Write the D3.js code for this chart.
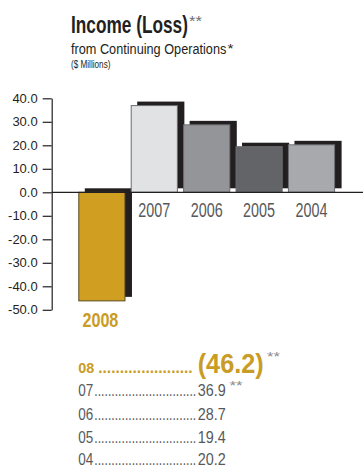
<!DOCTYPE html>
<html><head><meta charset="utf-8">
<script src="https://cdn.jsdelivr.net/npm/d3@7"></script>
<style>
html,body{margin:0;padding:0;background:#fff;}
svg{display:block;}
text{font-family:"Liberation Sans",Arial,sans-serif;}
</style></head>
<body>
<script>
// ---- data ----
const years = ["2008","2007","2006","2005","2004"];
const values = [-46.2, 36.9, 28.7, 19.4, 20.2];
const rowLabels = ["08","07","06","05","04"];
const rowNotes = ["**","**","","",""];
const yTicks = [40,30,20,10,0,-10,-20,-30,-40,-50];

// ---- styles ----
const barColors = ["#D09F22","#E1E2E4","#939598","#636468","#A7A9AC"];
const gold = "#C99C25", gray = "#58595B", ink = "#231F20";

const W = 363, H = 469;
const svg = d3.select("body").append("svg").attr("width", W).attr("height", H);

// condensed text: draw at size, then squeeze horizontally to a target width
function fitText(parent, x, y, str, size, width, opts = {}) {
  const el = parent.append("text").text(str)
    .style("font-size", size + "px")
    .style("font-weight", opts.bold ? "bold" : "normal")
    .attr("fill", opts.fill || ink)
    .attr("text-anchor", opts.anchor || "start");
  const len = el.node().getComputedTextLength();
  const sx = width ? width / len : 1;
  el.attr("transform", `translate(${x},${y}) scale(${sx},1)`);
  return el;
}

const y = d3.scaleLinear().domain([-50, 40]).range([309.8, 98.3]);
const x = d3.scaleBand().domain(years).range([78.3, 335.1]).paddingInner(0.1).paddingOuter(0);
const color = d3.scaleOrdinal().domain(years).range(barColors);
const data = years.map((yr, i) => ({year: yr, value: values[i], label: rowLabels[i], note: rowNotes[i]}));

// Title
const t = svg.append("g");
fitText(t, 71, 32.7, "Income (Loss)", 24, 117, {bold: true});
fitText(t, 189, 26, "**", 14, 13, {fill: "#6D6E71"});
fitText(t, 71, 54.3, "from Continuing Operations", 15, 155.5);
fitText(t, 227.5, 53, "*", 13, 6);
fitText(t, 71, 68.3, "($ Millions)", 10.5, 39.5);

// shadows
const dx = 6.5, dy = -4;
svg.append("g").selectAll("rect").data(data).join("rect")
  .attr("x", d => x(d.year) + dx)
  .attr("y", d => Math.min(y(d.value), y(0)) + dy)
  .attr("width", x.bandwidth())
  .attr("height", d => Math.abs(y(d.value) - y(0)))
  .attr("fill", ink);

// bars
svg.append("g").selectAll("rect").data(data).join("rect")
  .attr("x", d => x(d.year) + 0.5)
  .attr("y", d => Math.min(y(d.value), y(0)))
  .attr("width", x.bandwidth() - 1)
  .attr("height", d => Math.abs(y(d.value) - y(0)))
  .attr("fill", d => color(d.year))
  .attr("stroke", d => d.value < 0 ? "#5A4A20" : "#6D6E71")
  .attr("stroke-width", 1);

// y axis
const axis = svg.append("g").attr("transform", "translate(51.7,0)")
  .call(d3.axisLeft(y).tickValues(yTicks).tickSize(9).tickPadding(5).tickSizeOuter(0)
    .tickFormat(d => d3.format(".1f")(d).replace("−", "-")));
axis.select(".domain").attr("stroke", ink).attr("stroke-width", 1.2);
axis.selectAll(".tick line").attr("stroke", ink).attr("stroke-width", 1.2);
axis.selectAll(".tick text").attr("fill", ink).style("font-size", "13px");

// zero line
svg.append("line").attr("x1", 51.7).attr("x2", W).attr("y1", y(0)).attr("y2", y(0))
  .attr("stroke", ink).attr("stroke-width", 1.2);

// year labels
const yl = svg.append("g");
data.forEach(d => {
  const neg = d.value < 0;
  fitText(yl, x(d.year) + x.bandwidth() / 2 - (neg ? 1.5 : 0), neg ? 326.7 : 217.3,
    d.year, 21, neg ? 36 : 32, {bold: neg, fill: neg ? gold : gray, anchor: "middle"});
});

// table
const rowY = [372.5, 396.3, 419.8, 442.6, 465.3];
const fmt = v => v < 0 ? "(" + d3.format(".1f")(-v) + ")" : d3.format(".1f")(v);
const tb = svg.append("g");
data.forEach((d, i) => {
  const first = i === 0;
  const c = first ? gold : gray;
  if (first) {
    fitText(tb, 78.3, rowY[i], d.label, 15, 16, {bold: true, fill: c});
    fitText(tb, 98.3, rowY[i], ".".repeat(22), 17, 94.4, {bold: true, fill: c});
    fitText(tb, 197.7, rowY[i], fmt(d.value), 28, 66, {bold: true, fill: c});
  } else {
    fitText(tb, 78.3, rowY[i], d.label, 16, 15, {fill: c});
    fitText(tb, 94.3, rowY[i], ".".repeat(30), 16, 102, {fill: c});
    fitText(tb, 197.7, rowY[i], fmt(d.value), 16, 28, {fill: c});
  }
  if (d.note) {
    fitText(tb, first ? 267 : 229.5, first ? 361 : 390.3, d.note, first ? 13 : 12, 13, {fill: "#8A8B8D"});
  }
});
</script>
</body></html>
